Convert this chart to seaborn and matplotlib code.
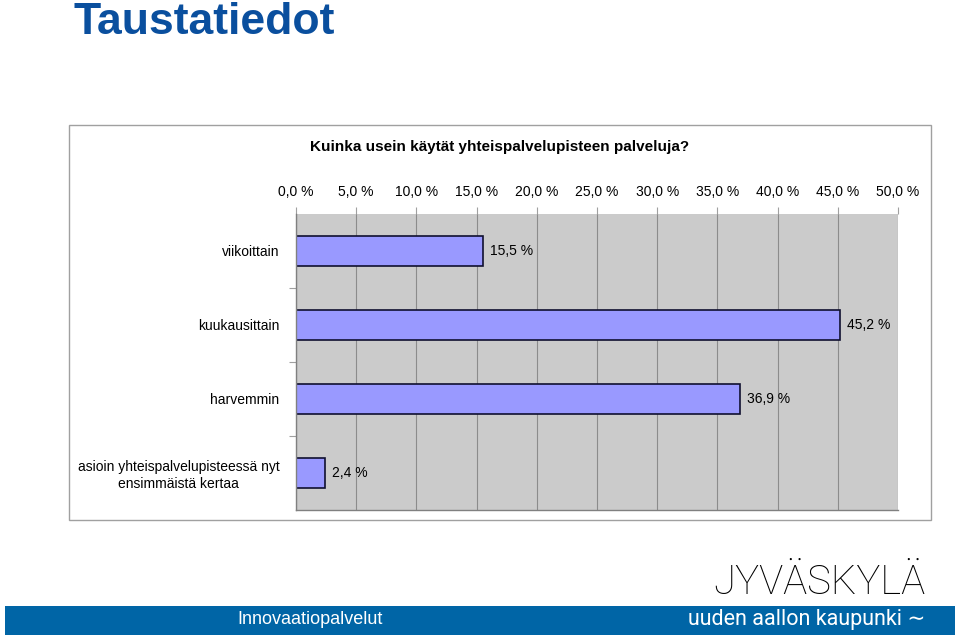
import matplotlib
matplotlib.use("Agg")
import matplotlib.pyplot as plt
import seaborn as sns
import pandas as pd
from matplotlib.patches import Rectangle
from matplotlib.ticker import MultipleLocator, FuncFormatter

categories = ["viikoittain", "kuukausittain", "harvemmin",
              "asioin yhteispalvelupisteessä nyt\nensimmäistä kertaa"]
values = [15.5, 45.2, 36.9, 2.4]
value_labels = ["15,5 %", "45,2 %", "36,9 %", "2,4 %"]

sns.set_theme(style="white")
plt.rcParams['font.family'] = ['Liberation Sans', 'DejaVu Sans']

df = pd.DataFrame({"cat": categories, "val": values})

fig = plt.figure(figsize=(9.6, 6.4), dpi=100)
W, H = 960, 640

def fx(x):
    return x / W

def fy(y):
    return 1 - y / H

# background layer axes for frame and footer band
bg = fig.add_axes([0, 0, 1, 1], zorder=-5)
bg.set_xlim(0, W)
bg.set_ylim(H, 0)
bg.axis("off")
bg.add_patch(Rectangle((69, 125), 931 - 69, 520 - 125, facecolor="white",
                       edgecolor="#A0A0A0", lw=1.0))
bg.add_patch(Rectangle((5, 606), 950, 29, facecolor="#0065A6", edgecolor="none"))

ax = fig.add_axes([fx(296), fy(510), fx(898) - fx(296), (510 - 214) / H], zorder=2)
ax.set_facecolor("#CBCBCB")

sns.barplot(data=df, y="cat", x="val", orient="h", color="#9999FF",
            edgecolor="#101030", linewidth=1.2, width=0.4, saturation=1, ax=ax)

ax.set_xlim(0, 50)
ax.set_ylim(3.5, -0.5)
ax.xaxis.set_major_locator(MultipleLocator(5))
ax.xaxis.set_major_formatter(FuncFormatter(lambda v, p: f"{v:.1f} %".replace(".", ",")))
ax.xaxis.tick_top()
ax.tick_params(axis="x", which="major", top=True, bottom=False, length=5,
               color="#A0A0A0", width=0.8, pad=6, labelsize=10, labelcolor="black")
ax.grid(axis="x", color="#8C8C8C", lw=0.8)
ax.grid(axis="y", visible=False)
ax.set_axisbelow(True)

ax.set_yticks(range(len(categories)))
ax.set_yticklabels(categories, fontsize=10, multialignment="center")
ax.set_yticks([0.5, 1.5, 2.5], minor=True)
ax.tick_params(axis="y", which="major", left=False, length=0, pad=12, labelcolor="black")
ax.tick_params(axis="y", which="minor", left=True, length=5, color="#A0A0A0", width=0.8)
ax.set_xlabel("")
ax.set_ylabel("")
for s in ["top", "right"]:
    ax.spines[s].set_visible(False)
ax.spines["left"].set_color("#808080")
ax.spines["bottom"].set_color("#808080")
ax.spines["left"].set_linewidth(1.0)
ax.spines["bottom"].set_linewidth(1.0)

for i, (v, lab) in enumerate(zip(values, value_labels)):
    ax.annotate(lab, xy=(v, i), xytext=(5, 0), textcoords="offset points",
                ha="left", va="center", fontsize=10, color="black")

# titles / texts
fig.text(fx(74), fy(23), "Taustatiedot", fontsize=32, fontweight="bold",
         color="#0A4F9E", ha="left", va="center")
fig.text(fx(500), fy(147), "Kuinka usein käytät yhteispalvelupisteen palveluja?",
         fontsize=11, fontweight="bold", ha="center", va="center", color="black")
fig.text(fx(310), fy(620), "Innovaatiopalvelut", fontsize=13, color="white",
         ha="center", va="center", zorder=10)
fig.text(fx(925), fy(583), "JYVÄSKYLÄ", fontsize=29, color="black",
         ha="right", va="center", family=["Roboto", "DejaVu Sans"], fontweight="light")
fig.text(fx(925), fy(619), "uuden aallon kaupunki ∼", fontsize=15.5, color="white",
         ha="right", va="center", family=["Roboto", "DejaVu Sans"], zorder=10)

fig.savefig("out.png", dpi=100)
